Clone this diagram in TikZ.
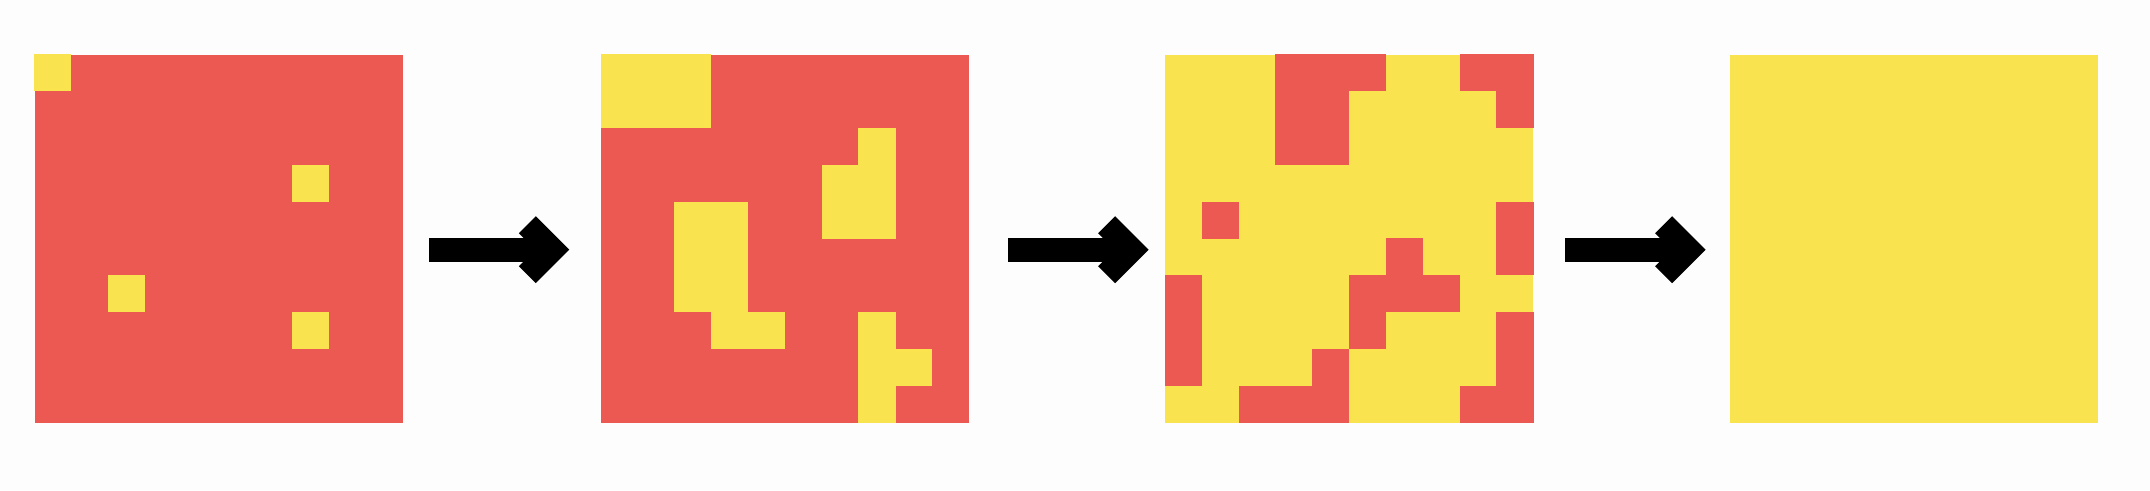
\documentclass[tikz,border=0pt]{standalone}
\definecolor{cellred}{RGB}{235,89,82}
\definecolor{cellyel}{RGB}{249,228,80}
\definecolor{bgcol}{RGB}{253,253,253}
\tikzset{
  gridbox/.style={rectangle, inner sep=0pt, outer sep=0pt, minimum width=368.4pt, minimum height=368pt, anchor=north west},
  redgrid/.style={gridbox, fill=cellred},
  yelgrid/.style={gridbox, fill=cellyel},
  shaftline/.style={line width=24pt, black, line cap=butt},
  chevronline/.style={line width=24pt, black, line join=miter, line cap=butt},
}
\newcommand\paintcells[3]{%
  \foreach \c/\r in {#3} {
    \fill[#2] ([shift={(36.84*\c-0.15,36.8*\r-0.15)}]#1.north west) rectangle ++(37.14,37.1);
  }%
}
\begin{document}
\begin{tikzpicture}[x=1pt,y=-1pt]
  \fill[bgcol] (0,0) rectangle (2150,490);
  \useasboundingbox (0,0) rectangle (2150,490);

  % grids
  \node[redgrid] (g1) at (34.5,54.5) {};
  \node[redgrid] (g2) at (600.7,54.5) {};
  \node[yelgrid] (g3) at (1165,54.5) {};
  \node[yelgrid] (g4) at (1730,54.5) {};

  \paintcells{g1}{cellyel}{0/0,7/3,2/6,7/7}
  \paintcells{g2}{cellyel}{0/0,1/0,2/0,0/1,1/1,2/1,7/2,6/3,7/3,6/4,7/4,2/4,3/4,2/5,3/5,2/6,3/6,3/7,4/7,7/7,7/8,8/8,7/9}
  \paintcells{g3}{cellred}{3/0,4/0,5/0,8/0,9/0,3/1,4/1,9/1,3/2,4/2,1/4,9/4,6/5,9/5,0/6,5/6,6/6,7/6,0/7,5/7,9/7,0/8,4/8,9/8,2/9,3/9,4/9,8/9,9/9}

  % arrows
  \coordinate (s1) at (429,249.7);    \coordinate (t1) at (552.3,249.7);
  \coordinate (s2) at (1008.3,249.7); \coordinate (t2) at (1131.6,249.7);
  \coordinate (s3) at (1565.3,249.7); \coordinate (t3) at (1688.6,249.7);
  \foreach \i in {1,2,3} {
    \draw[shaftline] (s\i) -- (t\i);
    \draw[chevronline] ([shift={(-25,-25)}]t\i) -- (t\i) -- ([shift={(-25,25)}]t\i);
  }
\end{tikzpicture}
\end{document}
